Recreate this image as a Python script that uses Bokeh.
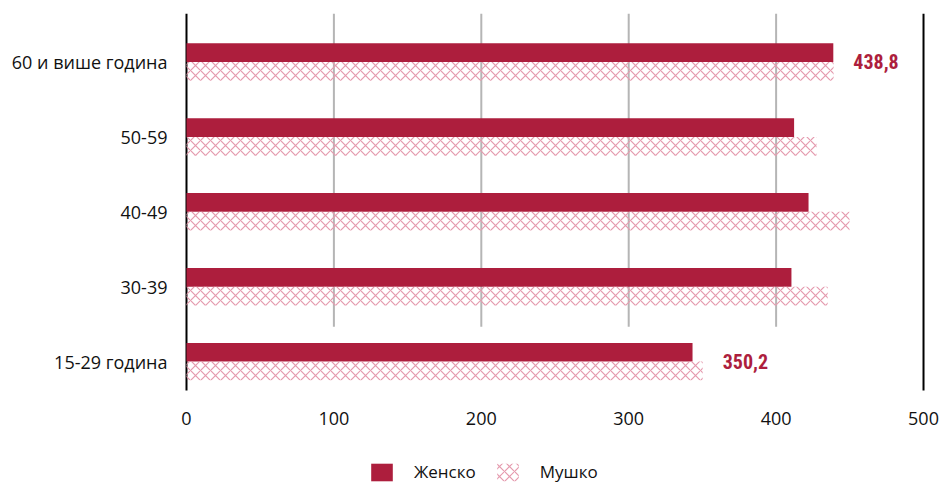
from bokeh.plotting import figure
from bokeh.models import ColumnDataSource, Legend, LegendItem, FixedTicker
from bokeh.core.properties import value
from bokeh.embed import file_html
from bokeh.resources import INLINE

categories = ["15-29 година", "30-39", "40-49", "50-59", "60 и више година"]
zensko = [343.3, 410.4, 422.0, 412.2, 438.8]
musko = [350.2, 435.0, 449.8, 427.4, 439.0]
x_ticks = [0, 100, 200, 300, 400, 500]
callouts_idx = [4, 0]
callouts_val = [438.8, 350.2]
callouts_txt = ["438,8", "350,2"]

CRIMSON = "#AD1E3D"
PINK = "#E59AAE"
FONT = "Open Sans"

# layout constants (y in category units, x in data units)
Y_TOP = 4.6475
Y_AXIS = -0.387
Y_GRID_BOTTOM = 0.467
Y_TICKLABEL = -0.761
Y_BOTTOM = -1.654
X_START = -10.85
X_END = 512.2

idx = list(range(len(categories)))
src = ColumnDataSource(dict(
    yz=[i + 0.125 for i in idx],
    ym=[i - 0.125 for i in idx],
    z=zensko, m=musko,
))

p = figure(width=941, height=485, output_backend="svg", toolbar_location=None,
           x_range=(X_START, X_END), y_range=(Y_BOTTOM, Y_TOP),
           min_border_left=170, min_border_right=0, min_border_top=13,
           min_border_bottom=0)
p.outline_line_color = None
p.xgrid.grid_line_color = None
p.ygrid.grid_line_color = None
p.xaxis.visible = False

# partial gridlines
gx = x_ticks[1:-1]
p.segment(x0=gx, x1=gx, y0=[Y_GRID_BOTTOM] * len(gx), y1=[Y_TOP] * len(gx),
          line_color="#B5B5B5", line_width=2)
# axis lines at 0 and 500
ex = [x_ticks[0], x_ticks[-1]]
p.segment(x0=ex, x1=ex, y0=[Y_AXIS] * 2, y1=[Y_TOP] * 2,
          line_color="black", line_width=2)

rz = p.hbar(y="yz", right="z", left=0, height=0.25, source=src,
            fill_color=CRIMSON, line_color=None)
rm = p.hbar(y="ym", right="m", left=0, height=0.25, source=src,
            fill_color="white", fill_alpha=0, line_color=None,
            hatch_pattern="diagonal_cross", hatch_color=PINK,
            hatch_scale=10, hatch_weight=1.2)

p.text(x=callouts_val, y=callouts_idx, text=callouts_txt, x_offset=20,
       text_font=value("'Liberation Sans Narrow', 'Roboto Condensed', Roboto"),
       text_font_style="bold", text_font_size="20px", text_color=CRIMSON,
       text_baseline="middle", text_align="left")

# x tick labels
p.text(x=x_ticks, y=[Y_TICKLABEL] * len(x_ticks), text=[str(t) for t in x_ticks],
       text_font=value(FONT), text_font_size="18px", text_color="#111111",
       text_baseline="middle", text_align="center")

p.yaxis.ticker = FixedTicker(ticks=idx)
p.yaxis.major_label_overrides = {i: c for i, c in zip(idx, categories)}
p.yaxis.axis_line_color = None
p.yaxis.major_tick_line_color = None
p.yaxis.minor_tick_line_color = None
p.yaxis.major_tick_out = 0
p.yaxis.major_tick_in = 0
p.yaxis.minor_tick_out = 0
p.yaxis.major_label_standoff = 3
p.yaxis.major_label_text_font = FONT
p.yaxis.major_label_text_font_size = "18px"
p.yaxis.major_label_text_color = "#111111"

legend = Legend(items=[LegendItem(label="Женско", renderers=[rz]),
                       LegendItem(label="Мушко", renderers=[rm])],
                orientation="horizontal", location=(198, 2),
                glyph_width=27, glyph_height=22, label_standoff=19, spacing=18,
                padding=0, margin=0, border_line_color=None,
                background_fill_alpha=0,
                label_text_font=FONT, label_text_font_size="17px",
                label_text_color="#111111")
p.add_layout(legend, "center")

open("out.html", "w").write(file_html(p, INLINE))
